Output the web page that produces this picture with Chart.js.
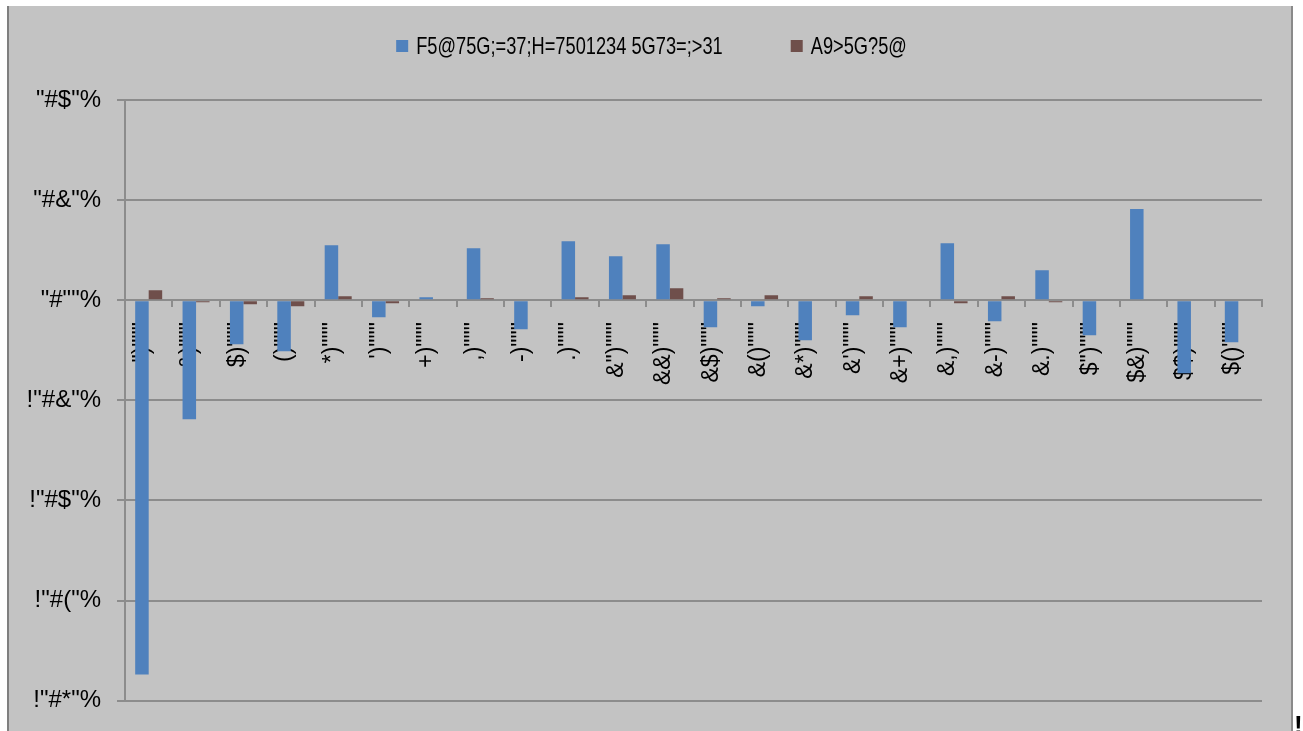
<!DOCTYPE html>
<html lang="en">
<head>
    <meta charset="UTF-8">
    <title>Chart</title>
    <script src="https://cdn.jsdelivr.net/npm/chart.js"></script>
    <style>
        html, body { margin: 0; padding: 0; background: #ffffff; }
        #wrap { position: relative; width: 1303px; height: 731px; overflow: hidden; }
    </style>
</head>
<body>
    <div id="wrap"><canvas id="barChart" width="1303" height="731"></canvas></div>
    <script>
        // text as it appears in the picture
        var categories = ['")"""', '&)"""', '$)"""', '()"""', '*)"""', '\')"""', '+)"""', ',)"""',
            '-)"""', '.)"""', '&")"""', '&&)"""', '&$)"""', '&()"""', '&*)"""', '&\')"""',
            '&+)"""', '&,)"""', '&-)"""', '&.)"""', '$")"""', '$&)"""', '$$)"""', '$()"""'];
        var seriesNames = ['F5@75G;=37;H=7501234 5G73=;>31', 'A9>5G?5@'];
        var blueValues = [-0.374, -0.119, -0.044, -0.051, 0.055, -0.017, 0.003, 0.052,
            -0.029, 0.059, 0.044, 0.056, -0.027, -0.006, -0.040, -0.015,
            -0.027, 0.057, -0.021, 0.030, -0.035, 0.091, -0.073, -0.042];
        var brownValues = [0.010, -0.002, -0.004, -0.006, 0.004, -0.003, -0.001, 0.002,
            -0.001, 0.003, 0.005, 0.012, 0.002, 0.005, 0.001, 0.004,
            0.001, -0.003, 0.004, -0.002, 0.001, 0.001, 0.001, 0.001];
        var yTickValues = [-0.4, -0.3, -0.2, -0.1, 0, 0.1, 0.2];
        var yTickLabels = ['!"#*"%', '!"#("%', '!"#$"%', '!"#&"%', '"#""%', '"#&"%', '"#$"%'];

        var gridGray = '#8c8c8c';
        var labelFont = '"Liberation Sans", Arial, sans-serif';

        var frame = {
            id: 'frame',
            beforeDraw: function (chart) {
                var c = chart.ctx;
                c.save();
                c.fillStyle = '#ffffff';
                c.fillRect(0, 0, chart.width, chart.height);
                c.fillStyle = '#c3c3c3';
                c.fillRect(7, 6, 1286, 725);
                c.fillStyle = '#7f7f7f';
                c.fillRect(7, 6, 2, 725);
                c.fillStyle = '#8a8a8a';
                c.fillRect(1291, 6, 2, 725);
                c.fillStyle = '#000000';
                c.font = 'bold 26px ' + labelFont;
                c.textAlign = 'left';
                c.textBaseline = 'alphabetic';
                c.fillText('!', 1294, 734);
                c.restore();
            }
        };

        // legend drawn on top, text a little condensed like the original
        var topLegend = {
            id: 'topLegend',
            afterDraw: function (chart) {
                var c = chart.ctx;
                var sets = chart.data.datasets;
                var squeeze = 0.76;
                c.save();
                c.font = '24px ' + labelFont;
                c.textBaseline = 'middle';
                var box = 12, gap = 8, between = 68;
                var widths = sets.map(function (d) { return c.measureText(d.label).width * squeeze; });
                var total = 0;
                widths.forEach(function (w, i) { total += box + gap + w + (i ? between : 0); });
                var x = chart.width / 2 - total / 2;
                var y = 46;
                sets.forEach(function (d, i) {
                    c.fillStyle = d.backgroundColor;
                    c.fillRect(x, y - box / 2, box, box);
                    c.save();
                    c.translate(x + box + gap, y + 1);
                    c.scale(squeeze, 1);
                    c.fillStyle = '#000000';
                    c.fillText(d.label, 0, 0);
                    c.restore();
                    x += box + gap + widths[i] + between;
                });
                c.restore();
            }
        };

        var ctx = document.getElementById('barChart').getContext('2d');
        var barChart = new Chart(ctx, {
            type: 'bar',
            data: {
                labels: categories,
                datasets: [{
                    label: seriesNames[0],
                    data: blueValues,
                    backgroundColor: '#4f81bd',
                    borderWidth: 0,
                    categoryPercentage: 0.57,
                    barPercentage: 1.0
                }, {
                    label: seriesNames[1],
                    data: brownValues,
                    backgroundColor: '#6f4f4b',
                    borderWidth: 0,
                    categoryPercentage: 0.57,
                    barPercentage: 1.0
                }]
            },
            options: {
                responsive: false,
                animation: false,
                layout: { padding: { top: 100, right: 41, bottom: 29, left: 0 } },
                plugins: {
                    legend: { display: false },
                    tooltip: { enabled: false }
                },
                scales: {
                    x: {
                        position: { y: 0 },
                        offset: true,
                        grid: {
                            display: true,
                            offset: true,
                            drawOnChartArea: false,
                            drawTicks: true,
                            tickLength: 6,
                            color: gridGray,
                            lineWidth: 2
                        },
                        border: { display: true, color: gridGray, width: 2 },
                        ticks: {
                            autoSkip: false,
                            minRotation: 90,
                            maxRotation: 90,
                            padding: 16,
                            labelOffset: -6,
                            color: '#000000',
                            font: { family: labelFont, size: 23 }
                        }
                    },
                    y: {
                        min: -0.4,
                        max: 0.2,
                        afterFit: function (scale) { scale.width = 125; },
                        afterBuildTicks: function (scale) {
                            scale.ticks = yTickValues.map(function (v) { return { value: v }; });
                        },
                        grid: {
                            color: gridGray,
                            lineWidth: 2,
                            tickLength: 8
                        },
                        border: { display: true, color: gridGray, width: 2 },
                        ticks: {
                            padding: 16,
                            color: '#000000',
                            font: { family: labelFont, size: 24 },
                            callback: function (value) {
                                var i = yTickValues.findIndex(function (v) { return Math.abs(v - value) < 1e-6; });
                                return i >= 0 ? yTickLabels[i] : '';
                            }
                        }
                    }
                }
            },
            plugins: [frame, topLegend]
        });
    </script>
</body>
</html>
